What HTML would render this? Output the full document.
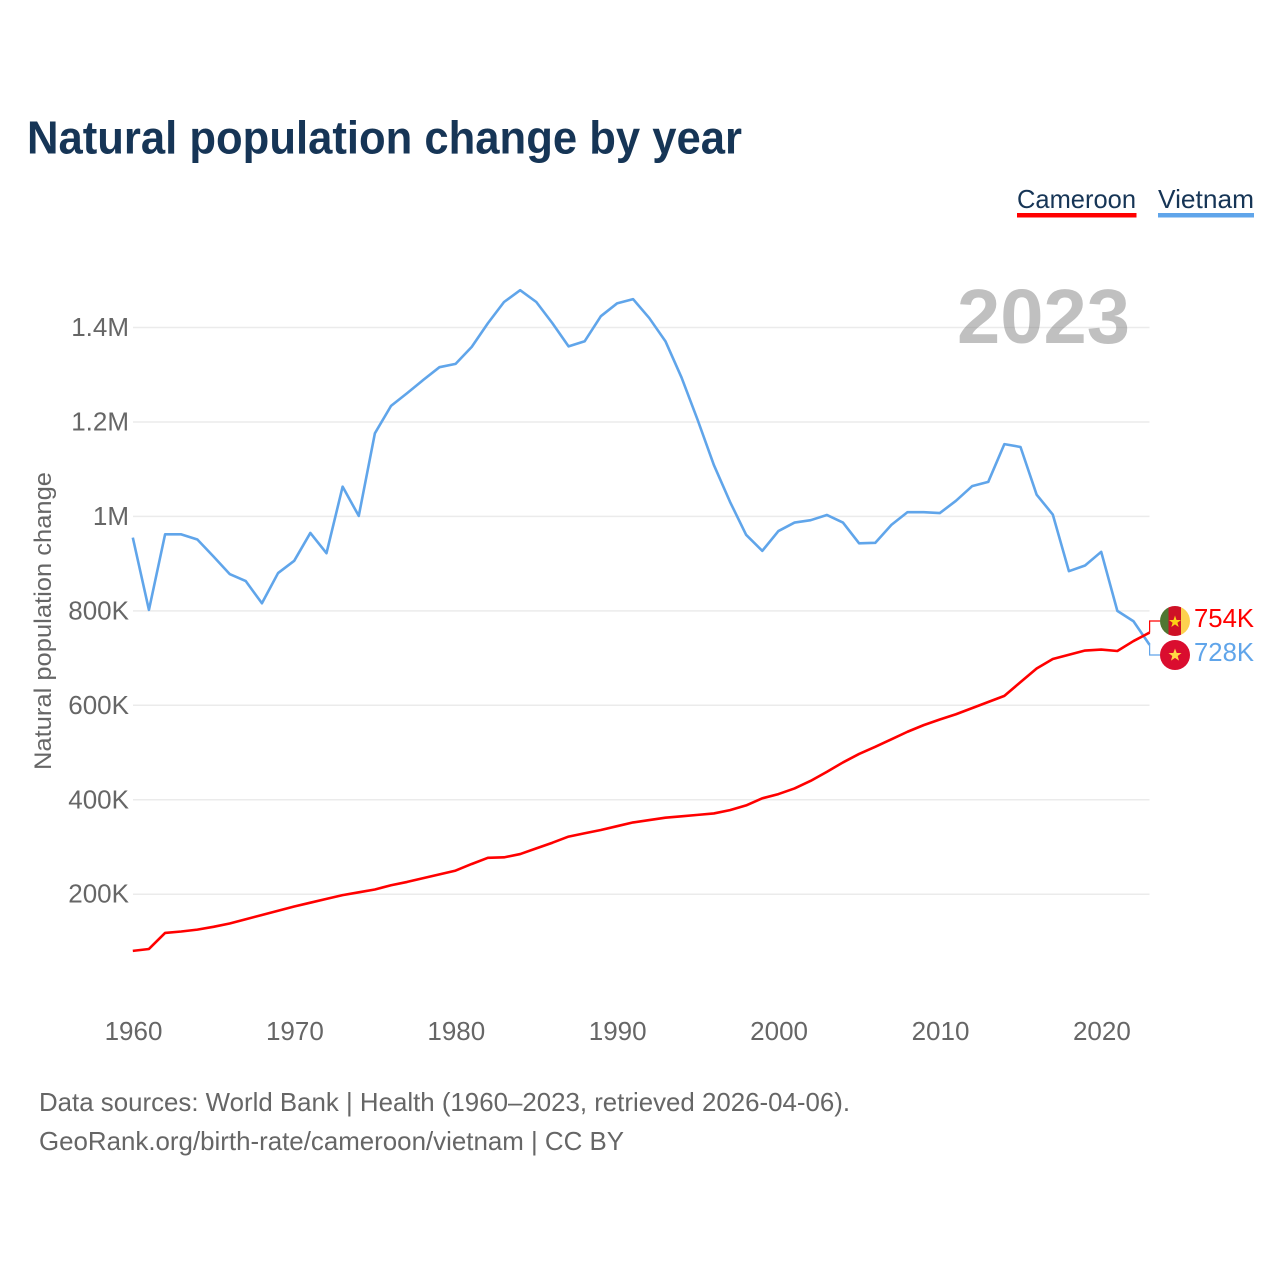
<!DOCTYPE html>
<html lang="en">
<head>
<meta charset="utf-8">
<title>Natural population change by year</title>
<style>
html,body{margin:0;padding:0;background:#fff;width:1280px;height:1280px;overflow:hidden}
svg{display:block;font-family:"Liberation Sans",sans-serif}
</style>
</head>
<body>
<svg id="chart" xmlns="http://www.w3.org/2000/svg" width="1280" height="1280" viewBox="0 0 1280 1280">
  <text x="27" y="153.5" font-size="46.5" font-weight="700" fill="#163556" textLength="715" lengthAdjust="spacingAndGlyphs">Natural population change by year</text>

  <g>
    <g>
      <text x="1017" y="208" font-size="26" fill="#163556" textLength="119" lengthAdjust="spacingAndGlyphs">Cameroon</text>
      <rect x="1017" y="213" width="119.5" height="4.5" fill="#ff0000"/>
    </g>
    <g>
      <text x="1158" y="208" font-size="26" fill="#163556" textLength="96" lengthAdjust="spacingAndGlyphs">Vietnam</text>
      <rect x="1158" y="213" width="96" height="4.5" fill="#60a5ea"/>
    </g>
  </g>

  <g id="grid"></g>
  <g id="yticks"></g>
  <g id="xticks"></g>

  <text transform="translate(51,621) rotate(-90)" text-anchor="middle" font-size="24" fill="#666" textLength="298" lengthAdjust="spacingAndGlyphs">Natural population change</text>

  <text x="957" y="343" font-size="77" font-weight="700" fill="#828282" fill-opacity="0.5" textLength="173" lengthAdjust="spacingAndGlyphs">2023</text>

  <g id="series"></g>

  <g id="flag-cameroon">
    <clipPath id="clip-cm"><circle cx="1175" cy="621" r="15"/></clipPath>
    <g clip-path="url(#clip-cm)">
      <rect x="1160" y="606" width="9" height="30" fill="#4f7632"/>
      <rect x="1168.5" y="606" width="12.5" height="30" fill="#ce1126"/>
      <rect x="1181" y="606" width="9" height="30" fill="#fdd14f"/>
    </g>
    <polygon points="1175,615.5 1176.5,620 1181,620 1177.4,622.7 1178.7,627 1175,624.4 1171.3,627 1172.6,622.7 1169,620 1173.5,620" fill="#fcd116"/>
  </g>
  <g id="flag-vietnam">
    <circle cx="1175" cy="655" r="15" fill="#da0d2f"/>
    <polygon points="1175,648.5 1176.7,653 1181.5,653 1177.7,656 1179,660.6 1175,657.9 1171,660.6 1172.3,656 1168.5,653 1173.3,653" fill="#ffda44"/>
  </g>

  <text id="value-cameroon" x="1194" y="627" font-size="26" fill="#ff0000" textLength="60" lengthAdjust="spacingAndGlyphs">754K</text>
  <text id="value-vietnam" x="1194" y="661" font-size="26" fill="#60a5ea" textLength="60" lengthAdjust="spacingAndGlyphs">728K</text>

  <text x="39" y="1111" font-size="26" fill="#666" textLength="811" lengthAdjust="spacingAndGlyphs">Data sources: World Bank | Health (1960–2023, retrieved 2026-04-06).</text>
  <a><text x="39" y="1150" font-size="26" fill="#666" textLength="585" lengthAdjust="spacingAndGlyphs">GeoRank.org/birth-rate/cameroon/vietnam | CC BY</text></a>
</svg>

<script>
const startYear = 1960;
const cameroon = [80,84,118,121,125,131,138,147,156,165,174,182,190,198,204,210,219,226,234,242,250,264,277,278,285,297,309,322,329,336,344,352,357,362,365,368,371,378,388,403,412,424,440,459,479,497,512,528,544,558,570,581,594,607,620,649,678,698,707,716,718,715,736,754];
const vietnam = [955,802,962,962,951,915,878,863,816,880,906,965,922,1063,1001,1176,1234,1261,1289,1316,1323,1359,1409,1454,1479,1454,1409,1360,1371,1424,1451,1460,1420,1371,1294,1204,1109,1031,961,927,969,987,992,1003,987,943,944,982,1009,1009,1007,1033,1064,1073,1153,1147,1046,1004,884,896,925,800,778,728];
const yTickValues = [200,400,600,800,1000,1200,1400];
const yTickLabels = ["200K","400K","600K","800K","1M","1.2M","1.4M"];
const xTickYears = [1960,1970,1980,1990,2000,2010,2020];

const NS = "http://www.w3.org/2000/svg";
function xScale(year){ return 132.8 + (year - 1960) * 16.14; }
function yScale(v){ return 327.5 + (1400 - v) * 0.47225; }
function make(tag, attrs, parent){
  const el = document.createElementNS(NS, tag);
  for (const k in attrs) el.setAttribute(k, attrs[k]);
  parent.appendChild(el);
  return el;
}
const grid = document.getElementById("grid");
const yticks = document.getElementById("yticks");
const xticks = document.getElementById("xticks");
const series = document.getElementById("series");

yTickValues.forEach(function(v, i){
  const y = yScale(v);
  const line = make("line", {x1:133, x2:1149.5, y1:y, y2:y, stroke:"#ebebeb", "stroke-width":1.5}, grid);
  
  
  const t = make("text", {x:129, y:y + 8.5, "text-anchor":"end", "font-size":26, fill:"#666"}, yticks);
  
  
  t.textContent = yTickLabels[i];
});

xTickYears.forEach(function(yr){
  const t = make("text", {x:xScale(yr) + 0.7, y:1040, "text-anchor":"middle", "font-size":26, fill:"#666"}, xticks);
  
  
  t.textContent = String(yr);
});

function pathFor(values){
  return values.map(function(v, i){
    return (i ? "L" : "M") + xScale(startYear + i).toFixed(2) + " " + yScale(v).toFixed(2);
  }).join(" ");
}
function drawSeries(values, color, labelY){
  const last = values[values.length - 1];
  const endX = xScale(startYear + values.length - 1);
  const conn = make("path", {d:"M" + endX + " " + yScale(last) + " V" + labelY + " H1160", fill:"none", stroke:color, "stroke-width":1.2}, series);
  
  
  const p = make("path", {d:pathFor(values), fill:"none", stroke:color, "stroke-width":2.6, "stroke-linejoin":"round"}, series);
  
  
}
drawSeries(vietnam, "#60a5ea", 655);
drawSeries(cameroon, "#ff0000", 621);
</script>
</body>
</html>
